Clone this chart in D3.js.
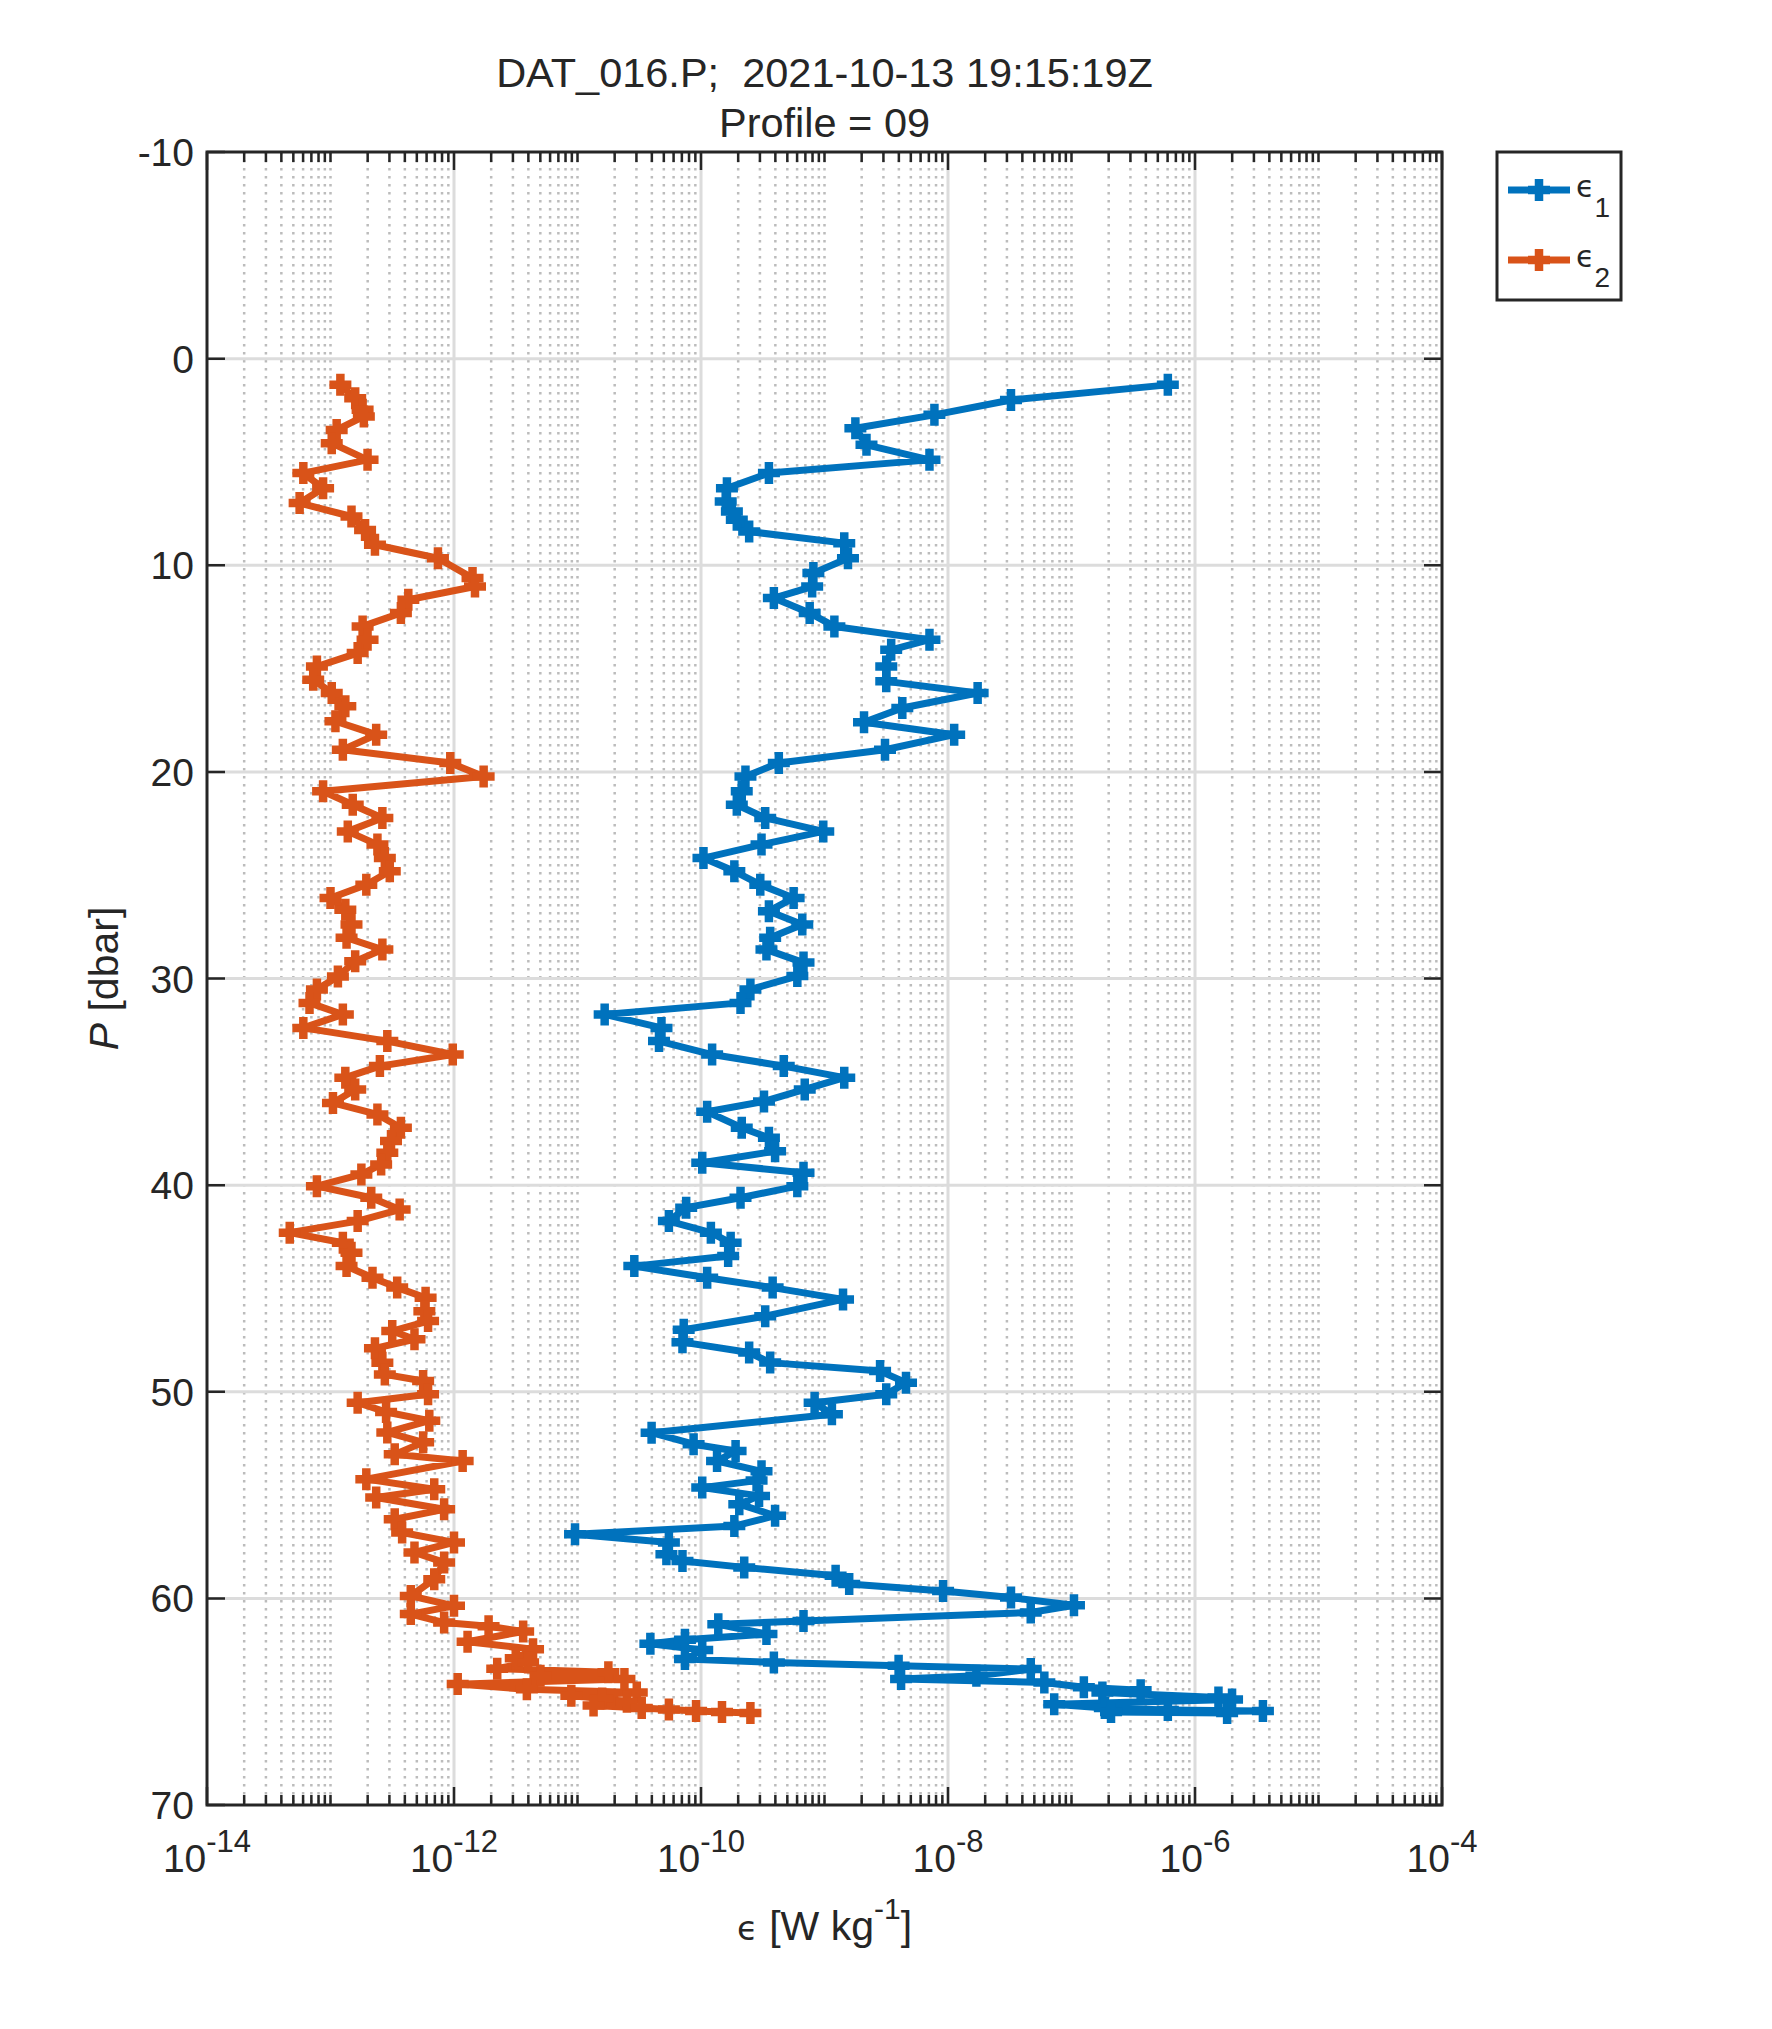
<!DOCTYPE html>
<html>
<head>
<meta charset="utf-8">
<script src="https://cdn.jsdelivr.net/npm/d3@7"></script>
<style>
body { margin: 0; background: #fff; }
text { font-family: "Liberation Sans", Arial, Helvetica, sans-serif; fill: #262626; white-space: pre; }
</style>
</head>
<body>
<script>
// pressure [dbar] and log10(epsilon)
const pressure1 = [1.27,2.0,2.72,3.37,4.17,4.9,5.54,6.27,6.92,7.4,7.8,8.37,8.93,9.66,10.38,11.03,11.59,12.31,12.96,13.6,14.09,14.9,15.62,16.18,16.91,17.6,18.2,18.93,19.57,20.22,20.94,21.59,22.23,22.88,23.52,24.17,24.81,25.46,26.1,26.74,27.39,28.03,28.6,29.23,29.88,30.53,31.18,31.74,32.39,33.03,33.68,34.24,34.8,35.37,35.95,36.45,37.22,37.71,38.36,38.92,39.4,40.05,40.61,41.09,41.74,42.3,42.79,43.43,43.92,44.48,44.96,45.53,46.34,47.0,47.6,48.1,48.59,49.0,49.56,50.12,50.53,51.09,51.98,52.54,52.87,53.35,53.85,54.3,54.64,55.04,55.44,56.0,56.5,56.9,57.3,57.86,58.19,58.5,58.9,59.3,59.64,59.96,60.33,60.68,61.09,61.25,61.73,62.0,62.2,62.5,62.94,63.1,63.26,63.42,63.75,63.9,64.07,64.3,64.45,64.55,64.8,64.9,65.12,65.3,65.4,65.45,65.5,65.55];
const logEps1 = [-6.22,-7.49,-8.11,-8.75,-8.66,-8.15,-9.45,-9.79,-9.80,-9.75,-9.71,-9.61,-8.84,-8.81,-9.09,-9.10,-9.41,-9.12,-8.92,-8.15,-8.46,-8.50,-8.50,-7.76,-8.37,-8.68,-7.95,-8.51,-9.37,-9.64,-9.67,-9.71,-9.48,-9.01,-9.51,-9.98,-9.73,-9.52,-9.25,-9.45,-9.18,-9.44,-9.47,-9.17,-9.22,-9.60,-9.68,-10.78,-10.32,-10.34,-9.91,-9.33,-8.84,-9.16,-9.49,-9.95,-9.67,-9.45,-9.40,-9.99,-9.17,-9.22,-9.68,-10.12,-10.26,-9.92,-9.76,-9.78,-10.54,-9.95,-9.42,-8.85,-9.48,-10.14,-10.15,-9.61,-9.44,-8.55,-8.34,-8.50,-9.08,-8.94,-10.40,-10.06,-9.72,-9.87,-9.51,-9.55,-9.99,-9.53,-9.69,-9.40,-9.73,-11.02,-10.26,-10.28,-10.15,-9.65,-8.91,-8.80,-8.04,-7.49,-6.98,-7.33,-9.17,-9.86,-9.47,-10.13,-10.41,-9.99,-10.13,-9.41,-8.40,-7.33,-7.77,-8.38,-7.22,-6.90,-6.44,-6.75,-5.81,-5.70,-7.14,-6.73,-6.22,-5.45,-6.68,-5.74];

const pressure2 = [1.27,1.92,2.48,2.8,3.45,4.09,4.9,5.54,6.27,6.99,7.64,8.29,9.01,9.66,10.62,11.03,11.67,12.31,12.96,13.6,14.25,14.9,15.54,16.18,16.83,17.55,18.2,18.93,19.57,20.22,20.94,21.59,22.23,22.88,23.52,24.17,24.81,25.46,26.1,26.67,27.39,28.03,28.6,29.17,29.9,30.53,31.18,31.74,32.39,33.03,33.68,34.24,34.8,35.37,36.02,36.58,37.22,37.87,38.43,39.0,39.48,40.05,40.61,41.18,41.74,42.3,42.79,43.27,43.92,44.48,44.96,45.45,46.1,46.58,47.06,47.46,47.9,48.6,49.16,49.48,50.12,50.53,50.98,51.4,51.97,52.45,53.03,53.35,54.23,54.72,55.12,55.69,56.17,56.81,57.29,57.78,58.26,59.07,59.88,60.36,60.76,61.17,61.35,61.6,62.1,62.46,62.9,63.1,63.4,63.58,63.75,63.9,64.15,64.4,64.55,64.71,64.85,65.0,65.19,65.3,65.38,65.45,65.5,65.55];
const logEps2 = [-12.92,-12.80,-12.74,-12.73,-12.95,-12.99,-12.70,-13.22,-13.06,-13.25,-12.83,-12.72,-12.64,-12.13,-11.85,-11.83,-12.37,-12.43,-12.74,-12.70,-12.78,-13.11,-13.14,-12.99,-12.88,-12.96,-12.63,-12.90,-12.03,-11.76,-13.06,-12.82,-12.58,-12.86,-12.62,-12.56,-12.52,-12.71,-13.00,-12.88,-12.83,-12.87,-12.58,-12.80,-12.94,-13.11,-13.17,-12.90,-13.22,-12.54,-12.01,-12.60,-12.88,-12.80,-12.98,-12.62,-12.43,-12.51,-12.54,-12.59,-12.75,-13.11,-12.67,-12.44,-12.78,-13.33,-12.90,-12.83,-12.87,-12.66,-12.46,-12.23,-12.24,-12.21,-12.50,-12.32,-12.64,-12.58,-12.56,-12.25,-12.21,-12.78,-12.55,-12.20,-12.54,-12.25,-12.48,-11.93,-12.71,-12.16,-12.63,-12.08,-12.48,-12.42,-12.00,-12.32,-12.08,-12.16,-12.35,-12.00,-12.35,-12.08,-11.72,-11.44,-11.89,-11.36,-11.50,-11.40,-11.65,-10.75,-11.30,-10.62,-11.97,-11.41,-10.52,-11.05,-10.80,-10.60,-10.87,-10.48,-10.26,-10.04,-9.83,-9.60];

const seriesNames = ["1", "2"];
const seriesColors = ["#0072BD", "#D95319"];
const yTicks = [-10, 0, 10, 20, 30, 40, 50, 60, 70];
const xTickExponents = [-14, -12, -10, -8, -6, -4];
const titleLines = ["DAT_016.P;  2021-10-13 19:15:19Z", "Profile = 09"];

function main(){
    const canvasWidth = 1772;
    const canvasHeight = 2029;
    const left = 207, right = 1442, top = 152, bottom = 1805;
    const axisColor = "#262626";

    const svg = d3.select("body").append("svg")
        .attr("width", canvasWidth)
        .attr("height", canvasHeight);

    const xScale = d3.scaleLog().domain([1e-14, 1e-4]).range([left, right]);
    const yScale = d3.scaleLinear().domain([-10, 70]).range([top, bottom]);

    // log tick positions: every k*10^e, majors at the labelled decades
    const majorX = xTickExponents.map(e => Math.pow(10, e));
    const minorX = [];
    for (let e = -14; e < -4; e++) {
        for (let k = 1; k <= 9; k++) {
            if (k === 1 && e % 2 === 0) continue;
            minorX.push(k * Math.pow(10, e));
        }
    }

    const grid = svg.append("g");
    grid.selectAll(".minor")
        .data(minorX)
        .enter()
        .append("line")
        .attr("x1", d => xScale(d)).attr("x2", d => xScale(d))
        .attr("y1", top).attr("y2", bottom)
        .attr("stroke", "#bcbcbc")
        .attr("stroke-width", 2.5)
        .attr("stroke-dasharray", "2.5,5.5");

    grid.selectAll(".majorx")
        .data(majorX.slice(1, -1))
        .enter()
        .append("line")
        .attr("x1", d => xScale(d)).attr("x2", d => xScale(d))
        .attr("y1", top).attr("y2", bottom)
        .attr("stroke", "#dcdcdc")
        .attr("stroke-width", 3);

    grid.selectAll(".majory")
        .data(yTicks.slice(1, -1))
        .enter()
        .append("line")
        .attr("x1", left).attr("x2", right)
        .attr("y1", d => yScale(d)).attr("y2", d => yScale(d))
        .attr("stroke", "#dcdcdc")
        .attr("stroke-width", 3);

    // data series
    const series = [
        pressure1.map((p, i) => ({p: p, eps: Math.pow(10, logEps1[i])})),
        pressure2.map((p, i) => ({p: p, eps: Math.pow(10, logEps2[i])}))
    ];

    const line = d3.line()
        .x(d => xScale(d.eps))
        .y(d => yScale(d.p));

    const plus = "M-11,0H11M0,-11V11";

    series.forEach((data, s) => {
        const g = svg.append("g");
        g.append("path")
            .datum(data)
            .attr("d", line)
            .attr("fill", "none")
            .attr("stroke", seriesColors[s])
            .attr("stroke-width", 7)
            .attr("stroke-linejoin", "round");
        g.selectAll(".mk")
            .data(data)
            .enter()
            .append("path")
            .attr("d", plus)
            .attr("transform", d => "translate(" + xScale(d.eps) + "," + yScale(d.p) + ")")
            .attr("stroke", seriesColors[s])
            .attr("stroke-width", 8.5)
            .attr("fill", "none");
    });

    // axes box and ticks
    const axes = svg.append("g")
        .attr("stroke", axisColor)
        .attr("stroke-width", 2.5);

    axes.selectAll(".tb")
        .data(majorX.concat(minorX))
        .enter()
        .append("path")
        .attr("d", d => {
            const len = majorX.includes(d) ? 18 : 10;
            const x = xScale(d);
            return "M" + x + "," + bottom + "V" + (bottom - len) + "M" + x + "," + top + "V" + (top + len);
        });

    axes.selectAll(".ty")
        .data(yTicks)
        .enter()
        .append("path")
        .attr("d", d => {
            const y = yScale(d);
            return "M" + left + "," + y + "H" + (left + 18) + "M" + right + "," + y + "H" + (right - 18);
        });

    axes.append("rect")
        .attr("x", left).attr("y", top)
        .attr("width", right - left).attr("height", bottom - top)
        .attr("fill", "none")
        .attr("stroke-width", 3);

    // tick labels
    svg.selectAll(".ylab")
        .data(yTicks)
        .enter()
        .append("text")
        .attr("x", left - 13)
        .attr("y", d => yScale(d) + 14)
        .attr("text-anchor", "end")
        .attr("font-size", "39px")
        .text(d => d);

    const xl = svg.selectAll(".xlab")
        .data(xTickExponents)
        .enter()
        .append("text")
        .attr("x", d => xScale(Math.pow(10, d)))
        .attr("y", 1872)
        .attr("text-anchor", "middle")
        .attr("font-size", "39px");
    xl.append("tspan").text("10");
    xl.append("tspan")
        .attr("dy", -20)
        .attr("font-size", "31px")
        .text(d => d);

    // axis labels
    const xt = svg.append("text")
        .attr("x", (left + right) / 2)
        .attr("y", 1940)
        .attr("text-anchor", "middle")
        .attr("font-size", "41px");
    xt.append("tspan").attr("font-family", "DejaVu Sans").attr("font-size", "34px").text("\u03F5");
    xt.append("tspan").text(" [W kg");
    xt.append("tspan").attr("dy", -21).attr("font-size", "30px").text("-1");
    xt.append("tspan").attr("dy", 21).text("]");

    const yt = svg.append("text")
        .attr("transform", "translate(118," + ((top + bottom) / 2) + ") rotate(-90)")
        .attr("text-anchor", "middle")
        .attr("font-size", "41px");
    yt.append("tspan").attr("font-style", "italic").text("P");
    yt.append("tspan").text(" [dbar]");

    // title
    svg.selectAll(".title")
        .data(titleLines)
        .enter()
        .append("text")
        .attr("x", (left + right) / 2)
        .attr("y", (d, i) => 87 + i * 50)
        .attr("text-anchor", "middle")
        .attr("font-size", "41.5px")
        .text(d => d);

    // legend
    const legend = svg.append("g");
    legend.append("rect")
        .attr("x", 1497).attr("y", 152)
        .attr("width", 124).attr("height", 148)
        .attr("fill", "#fff")
        .attr("stroke", axisColor)
        .attr("stroke-width", 3);

    const entries = legend.selectAll(".entry")
        .data(seriesNames)
        .enter()
        .append("g")
        .attr("transform", (d, i) => "translate(0," + (190 + i * 70) + ")");
    entries.append("line")
        .attr("x1", 1508).attr("x2", 1570)
        .attr("y1", 0).attr("y2", 0)
        .attr("stroke", (d, i) => seriesColors[i])
        .attr("stroke-width", 7);
    entries.append("path")
        .attr("d", plus)
        .attr("transform", "translate(1539,0)")
        .attr("stroke", (d, i) => seriesColors[i])
        .attr("stroke-width", 8.5);
    const lt = entries.append("text")
        .attr("x", 1576)
        .attr("y", 7);
    lt.append("tspan").attr("font-family", "DejaVu Sans").attr("font-size", "30px").text("\u03F5");
    lt.append("tspan").attr("dy", 20).attr("font-size", "28px").text(d => d);
}
main();
</script>
</body>
</html>
